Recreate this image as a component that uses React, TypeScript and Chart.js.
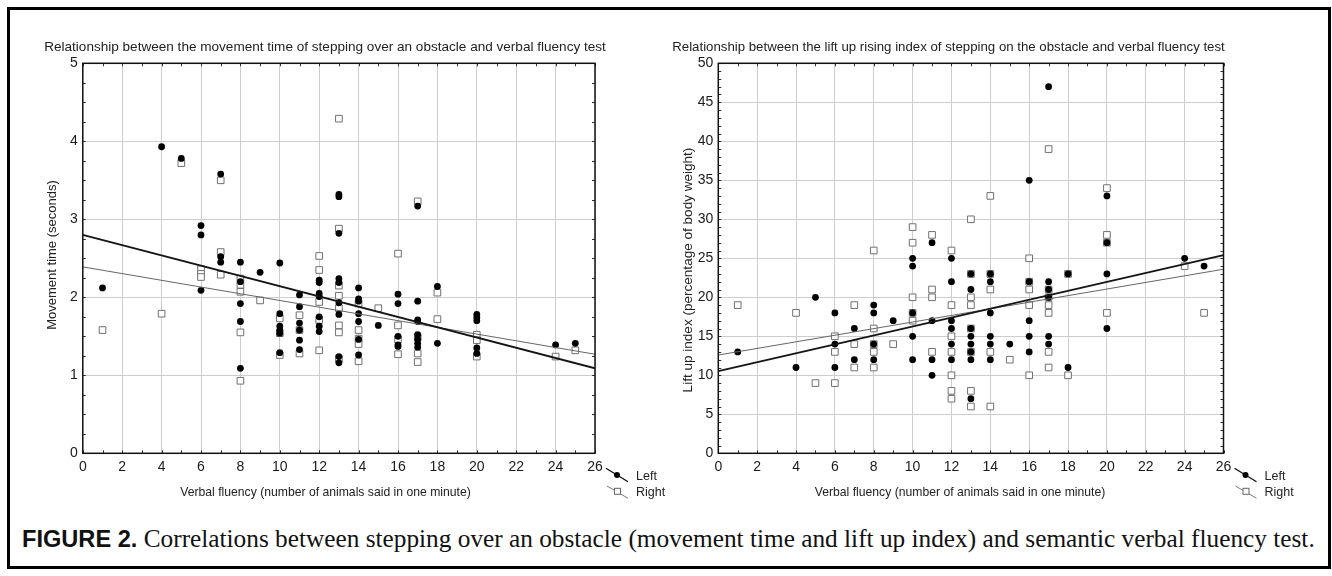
import React, { useEffect, useRef } from "react";
import { Chart, registerables } from "chart.js";
Chart.register(...registerables);

const SANS = "'Liberation Sans', Arial, Helvetica, sans-serif";
const SERIF = "'Liberation Serif', 'Times New Roman', serif";

// ---------- data: movement time chart ----------
const movementXTicks = [0, 2, 4, 6, 8, 10, 12, 14, 16, 18, 20, 22, 24, 26];
const movementYTicks = [0, 1, 2, 3, 4, 5];
const movementLeft: number[][] = [
  [1, 2.12], [4, 3.93], [5, 3.78],
  [6, 2.92], [6, 2.8], [6, 2.09],
  [7, 3.58], [7, 2.52], [7, 2.45],
  [8, 2.45], [8, 2.2], [8, 1.92], [8, 1.69], [8, 1.09],
  [9, 2.32],
  [10, 2.44], [10, 1.79], [10, 1.63], [10, 1.58], [10, 1.54], [10, 1.29],
  [11, 2.03], [11, 1.88], [11, 1.67], [11, 1.58], [11, 1.45], [11, 1.33],
  [12, 2.22], [12, 2.19], [12, 2.05], [12, 2.01], [12, 1.75], [12, 1.63], [12, 1.56],
  [13, 3.32], [13, 3.29], [13, 2.82], [13, 2.24], [13, 2.19], [13, 1.93], [13, 1.78], [13, 1.24], [13, 1.16],
  [14, 2.12], [14, 1.98], [14, 1.95], [14, 1.79], [14, 1.69], [14, 1.46], [14, 1.26],
  [15, 1.64],
  [16, 2.04], [16, 1.92], [16, 1.5], [16, 1.39], [16, 1.37],
  [17, 3.17], [17, 1.95], [17, 1.71], [17, 1.69], [17, 1.52], [17, 1.46], [17, 1.41], [17, 1.36],
  [18, 2.14], [18, 1.41],
  [20, 1.78], [20, 1.74], [20, 1.7], [20, 1.35], [20, 1.28],
  [24, 1.39], [25, 1.41],
];
const movementRight: number[][] = [
  [1, 1.58], [4, 1.79], [5, 3.72],
  [6, 2.36], [6, 2.3], [6, 2.26],
  [7, 3.5], [7, 2.58], [7, 2.29],
  [8, 2.24], [8, 2.16], [8, 2.07], [8, 1.55], [8, 0.93],
  [9, 1.96],
  [10, 1.73], [10, 1.54], [10, 1.26],
  [11, 1.77], [11, 1.58], [11, 1.28],
  [12, 2.53], [12, 2.35], [12, 1.94], [12, 1.71], [12, 1.32],
  [13, 4.29], [13, 2.88], [13, 2.15], [13, 2.02], [13, 1.86], [13, 1.64], [13, 1.55], [13, 1.21],
  [14, 1.92], [14, 1.58], [14, 1.47], [14, 1.4], [14, 1.18],
  [15, 1.86],
  [16, 2.56], [16, 1.64], [16, 1.46], [16, 1.27],
  [17, 3.23], [17, 1.49], [17, 1.28], [17, 1.17],
  [18, 2.06], [18, 1.72],
  [20, 1.52], [20, 1.45], [20, 1.24],
  [24, 1.24], [25, 1.32],
];
const movementLeftFit: number[][] = [[0, 2.8], [26, 1.09]];
const movementRightFit: number[][] = [[0, 2.39], [26, 1.27]];

// ---------- data: lift up index chart ----------
const liftXTicks = [0, 2, 4, 6, 8, 10, 12, 14, 16, 18, 20, 22, 24, 26];
const liftYTicks = [0, 5, 10, 15, 20, 25, 30, 35, 40, 45, 50];
const liftLeft: number[][] = [
  [1, 13], [4, 11], [5, 20],
  [6, 18], [6, 14], [6, 11],
  [7, 16], [7, 12],
  [8, 19], [8, 18], [8, 14], [8, 12],
  [9, 17],
  [10, 25], [10, 24], [10, 18], [10, 15], [10, 12],
  [11, 27], [11, 17], [11, 12], [11, 10],
  [12, 25], [12, 22], [12, 17], [12, 16], [12, 14], [12, 12],
  [13, 23], [13, 21], [13, 16], [13, 15], [13, 14], [13, 13], [13, 12], [13, 7],
  [14, 23], [14, 22], [14, 18], [14, 15], [14, 14], [14, 12],
  [15, 14],
  [16, 35], [16, 22], [16, 17], [16, 15], [16, 13],
  [17, 47], [17, 22], [17, 21], [17, 20], [17, 15], [17, 14],
  [18, 23], [18, 11],
  [20, 33], [20, 27], [20, 23], [20, 16],
  [24, 25], [25, 24],
];
const liftRight: number[][] = [
  [1, 19], [4, 18], [5, 9],
  [6, 15], [6, 13], [6, 9],
  [7, 19], [7, 14], [7, 11],
  [8, 26], [8, 16], [8, 14], [8, 13], [8, 11],
  [9, 14],
  [10, 29], [10, 27], [10, 20], [10, 18], [10, 17],
  [11, 28], [11, 21], [11, 20], [11, 13],
  [12, 26], [12, 19], [12, 15], [12, 13], [12, 10], [12, 8], [12, 7],
  [13, 30], [13, 23], [13, 20], [13, 19], [13, 16], [13, 13], [13, 8], [13, 6],
  [14, 33], [14, 23], [14, 21], [14, 13], [14, 6],
  [15, 12],
  [16, 25], [16, 22], [16, 21], [16, 19], [16, 10],
  [17, 39], [17, 21], [17, 20], [17, 19], [17, 18], [17, 13], [17, 11],
  [18, 23], [18, 10],
  [20, 34], [20, 28], [20, 27], [20, 18],
  [24, 24], [25, 18],
];
const liftLeftFit: number[][] = [[0, 10.55], [26, 25.4]];
const liftRightFit: number[][] = [[0, 12.6], [26, 23.6]];

const legendLabels = ["Left", "Right"];

type PanelProps = {
  left: number; width: number; plotLeft: number; plotRight: number;
  title: string; titleCx: number; titleW: number;
  xTitle: string; xTitleCx: number; xTitleW: number;
  yTitle: string; yTitleX: number; yTitleCy: number; yTitleH: number;
  xTicks: number[]; yTicks: number[]; yMinor: number;
  leftPts: number[][]; rightPts: number[][]; leftFit: number[][]; rightFit: number[][];
};

const TOP = 30; // canvas top (page)
const HEIGHT = 480;
const PLOT_TOP = 63.3;
const PLOT_BOTTOM = 453.3;

function fitFont(ctx: CanvasRenderingContext2D, text: string, target: number, weight = "normal") {
  ctx.font = `${weight} 100px ${SANS}`;
  const w = ctx.measureText(text).width;
  return (100 * target) / w;
}

function Panel(p: PanelProps) {
  const ref = useRef<HTMLCanvasElement | null>(null);
  useEffect(() => {
    const canvas = ref.current!;
    const pts = (a: number[][]) => a.map(([x, y]) => ({ x, y }));
    const yStep = p.yTicks[1] - p.yTicks[0];
    const xStep = p.xTicks[1] - p.xTicks[0];
    const decorPlugin = {
      id: "decor",
      afterDraw(chart: any) {
        const ctx: CanvasRenderingContext2D = chart.ctx;
        const a = chart.chartArea;
        const xs = chart.scales.x;
        const ys = chart.scales.y;
        ctx.save();
        // minor ticks on all sides
        ctx.strokeStyle = "#333";
        ctx.lineWidth = 1;
        const L = 3;
        ctx.beginPath();
        for (let v = p.xTicks[0]; v <= p.xTicks[p.xTicks.length - 1] + 1e-9; v += 1) {
          const px = Math.round(xs.getPixelForValue(v)) + 0.5;
          ctx.moveTo(px, a.bottom); ctx.lineTo(px, a.bottom - L);
          ctx.moveTo(px, a.top); ctx.lineTo(px, a.top + L);
        }
        for (let v = p.yTicks[0]; v <= p.yTicks[p.yTicks.length - 1] + 1e-9; v += p.yMinor) {
          const py = Math.round(ys.getPixelForValue(v)) + 0.5;
          ctx.moveTo(a.left, py); ctx.lineTo(a.left + L, py);
          ctx.moveTo(a.right, py); ctx.lineTo(a.right - L, py);
        }
        ctx.stroke();
        // frame
        ctx.strokeStyle = "#111";
        ctx.lineWidth = 1.5;
        ctx.strokeRect(a.left, a.top, a.right - a.left, a.bottom - a.top);
        // titles
        ctx.fillStyle = "#222";
        ctx.textAlign = "center";
        ctx.textBaseline = "middle";
        let fs = fitFont(ctx, p.title, p.titleW);
        ctx.font = `${fs}px ${SANS}`;
        ctx.fillText(p.title, p.titleCx - p.left, 47 - TOP);
        fs = fitFont(ctx, p.xTitle, p.xTitleW);
        ctx.font = `${fs}px ${SANS}`;
        ctx.fillText(p.xTitle, p.xTitleCx - p.left, 493 - TOP);
        fs = fitFont(ctx, p.yTitle, p.yTitleH);
        ctx.font = `${fs}px ${SANS}`;
        ctx.save();
        ctx.translate(p.yTitleX - p.left, p.yTitleCy - TOP);
        ctx.rotate(-Math.PI / 2);
        ctx.fillText(p.yTitle, 0, 0);
        ctx.restore();
        // legend
        const r = a.right, b = a.bottom;
        ctx.strokeStyle = "#111";
        ctx.lineWidth = 1.3;
        ctx.beginPath();
        ctx.moveTo(r + 11, b + 15); ctx.lineTo(r + 33, b + 28.4);
        ctx.stroke();
        ctx.fillStyle = "#000";
        ctx.beginPath();
        ctx.arc(r + 22, b + 21.7, 3, 0, Math.PI * 2);
        ctx.fill();
        ctx.strokeStyle = "#777";
        ctx.lineWidth = 1;
        ctx.beginPath();
        ctx.moveTo(r + 12, b + 32.7); ctx.lineTo(r + 33, b + 45);
        ctx.stroke();
        ctx.fillStyle = "#fff";
        ctx.fillRect(r + 19.5, b + 35, 6, 6);
        ctx.strokeStyle = "#666";
        ctx.strokeRect(r + 19.5, b + 35, 6, 6);
        ctx.fillStyle = "#222";
        ctx.textAlign = "left";
        ctx.font = `12.5px ${SANS}`;
        ctx.fillText(legendLabels[0], r + 41, b + 23.4);
        ctx.fillText(legendLabels[1], r + 41, b + 39.5);
        ctx.restore();
      },
    };
    const tickFont = { family: SANS, size: 14 };
    const chart = new Chart(canvas, {
      type: "scatter",
      data: {
        datasets: [
          { label: "Left fit", data: pts(p.leftFit), showLine: true, pointRadius: 0, borderColor: "#151515", borderWidth: 1.8, order: 0 } as any,
          { label: "Right fit", data: pts(p.rightFit), showLine: true, pointRadius: 0, borderColor: "#666", borderWidth: 1, order: 0 } as any,
          { label: legendLabels[0], data: pts(p.leftPts), pointStyle: "circle", pointRadius: 3.4, backgroundColor: "#000", borderColor: "#000", borderWidth: 0, order: 1 },
          { label: legendLabels[1], data: pts(p.rightPts), pointStyle: "rect", pointRadius: 4.7, backgroundColor: "#fff", borderColor: "#707070", borderWidth: 1, order: 2 },
        ],
      },
      options: {
        animation: false,
        responsive: false,
        devicePixelRatio: 1,
        events: [],
        layout: { padding: { left: 0, top: PLOT_TOP - TOP, right: p.width - (p.plotRight - p.left), bottom: 0 } },
        plugins: { legend: { display: false }, tooltip: { enabled: false }, title: { display: false } },
        scales: {
          x: {
            type: "linear",
            min: p.xTicks[0],
            max: p.xTicks[p.xTicks.length - 1],
            afterBuildTicks: (s: any) => { s.ticks = p.xTicks.map((v) => ({ value: v })); },
            ticks: { stepSize: xStep, font: tickFont, color: "#1a1a1a", padding: 5, maxRotation: 0, autoSkip: false },
            grid: { color: "#cdcdcd", lineWidth: 1, drawTicks: false },
            border: { display: false },
            afterFit: (s: any) => { s.height = HEIGHT - (PLOT_BOTTOM - TOP); },
          },
          y: {
            type: "linear",
            min: p.yTicks[0],
            max: p.yTicks[p.yTicks.length - 1],
            afterBuildTicks: (s: any) => { s.ticks = p.yTicks.map((v) => ({ value: v })); },
            ticks: { stepSize: yStep, font: tickFont, color: "#1a1a1a", padding: 5 },
            grid: { color: "#cdcdcd", lineWidth: 1, drawTicks: false },
            border: { display: false },
            afterFit: (s: any) => { s.width = p.plotLeft - p.left; },
          },
        },
      } as any,
      plugins: [decorPlugin],
    });
    return () => chart.destroy();
  }, []);
  return (
    <canvas
      ref={ref}
      width={p.width}
      height={HEIGHT}
      style={{ position: "absolute", left: p.left, top: TOP, width: p.width, height: HEIGHT }}
    />
  );
}

export default function App() {
  useEffect(() => {
    document.body.style.margin = "0";
  }, []);
  return (
    <div style={{ position: "relative", width: 1332, height: 576, background: "#fff", overflow: "hidden" }}>
      <div
        style={{
          position: "absolute", left: 7, top: 7, width: 1324, height: 562,
          border: "3px solid #000", boxSizing: "border-box",
        }}
      />
      <Panel
        left={30} width={650} plotLeft={82.8} plotRight={595}
        title="Relationship between the movement time of stepping over an obstacle and verbal fluency test"
        titleCx={325} titleW={562}
        xTitle="Verbal fluency (number of animals said in one minute)" xTitleCx={325.5} xTitleW={291}
        yTitle="Movement time (seconds)" yTitleX={52} yTitleCy={255} yTitleH={150}
        xTicks={movementXTicks} yTicks={movementYTicks} yMinor={0.25}
        leftPts={movementLeft} rightPts={movementRight} leftFit={movementLeftFit} rightFit={movementRightFit}
      />
      <Panel
        left={660} width={660} plotLeft={718.3} plotRight={1223.5}
        title="Relationship between the lift up rising index of stepping on the obstacle and verbal fluency test"
        titleCx={948.5} titleW={553}
        xTitle="Verbal fluency (number of animals said in one minute)" xTitleCx={960} xTitleW={291}
        yTitle="Lift up index (percentage of body weight)" yTitleX={688} yTitleCy={270} yTitleH={245}
        xTicks={liftXTicks} yTicks={liftYTicks} yMinor={1}
        leftPts={liftLeft} rightPts={liftRight} leftFit={liftLeftFit} rightFit={liftRightFit}
      />
      <div
        style={{
          position: "absolute", left: 22, top: 524, whiteSpace: "nowrap",
          fontFamily: SERIF, fontSize: 25.3, lineHeight: "28px", color: "#111",
        }}
      >
        <span style={{ fontFamily: SANS, fontWeight: "bold", fontSize: 23.6 }}>FIGURE 2.</span>{" "}
        Correlations between stepping over an obstacle (movement time and lift up index) and semantic verbal fluency test.
      </div>
    </div>
  );
}
